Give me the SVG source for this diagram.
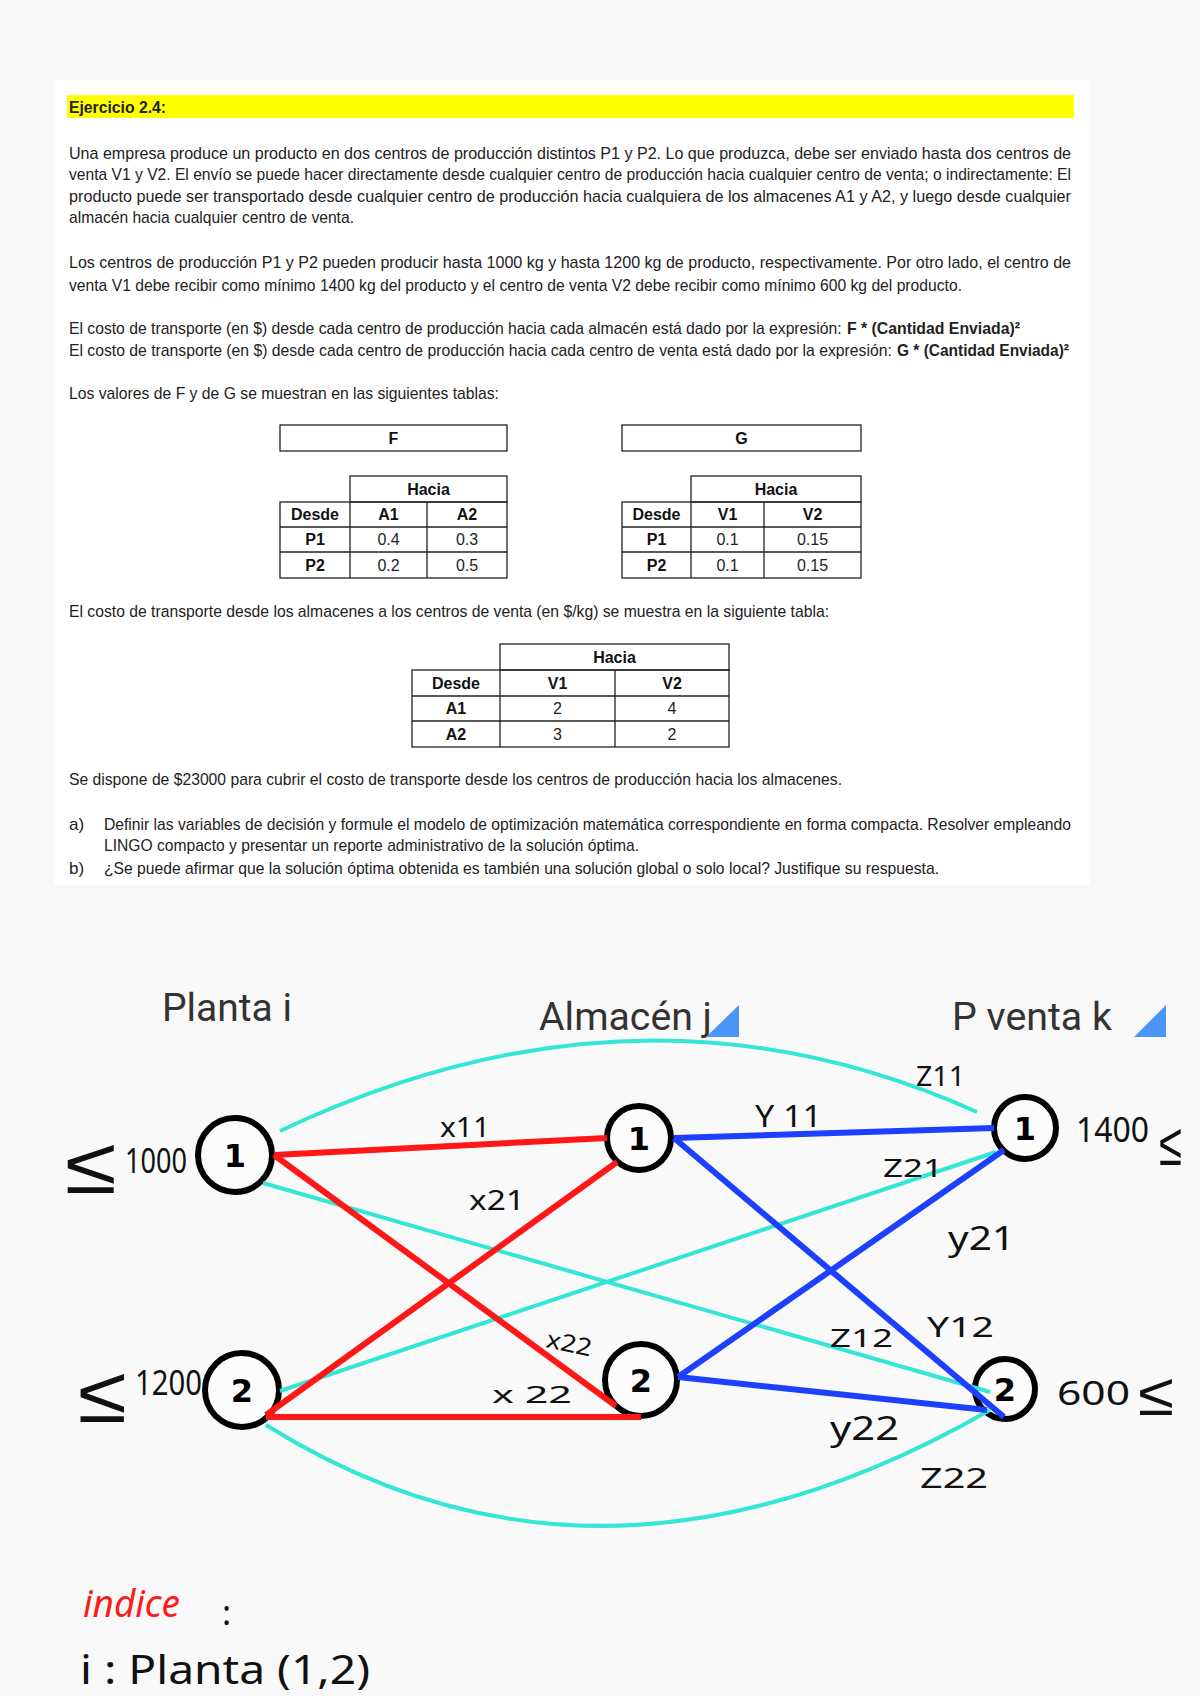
<svg xmlns="http://www.w3.org/2000/svg" width="1200" height="1696" viewBox="0 0 1200 1696">
<defs>
<style>
.doc{font-family:"Liberation Sans Narrow","Liberation Sans",Arial,sans-serif;font-size:17px;fill:#222}
.b{font-weight:bold}
.tb{font-family:"Liberation Sans Narrow","Liberation Sans",Arial,sans-serif;font-size:16px;fill:#222;text-anchor:middle}
.tbb{font-family:"Liberation Sans Narrow","Liberation Sans",Arial,sans-serif;font-size:16px;fill:#111;font-weight:bold;text-anchor:middle}
.grid{fill:none;stroke:#222;stroke-width:1.3}
.head{font-family:Roboto,"Noto Sans",sans-serif;font-size:38px;fill:#333}
.hw{font-family:"Noto Sans","DejaVu Sans",sans-serif;fill:#111}
.le{font-family:"Liberation Sans",Arial,sans-serif;fill:#111}
.node{fill:#fcfcfc;stroke:#000;stroke-width:6}
.nl{font-family:"DejaVu Sans",sans-serif;font-weight:bold;font-size:32px;fill:#000;text-anchor:middle}
.red{stroke:#ff1717;stroke-width:6;fill:none}
.blue{stroke:#1d40ff;stroke-width:6;fill:none}
.cyan{stroke:#33e6d5;stroke-width:4;fill:none}
.tri{fill:#4a95f7}
</style>
</defs>
<rect x="0" y="0" width="1200" height="1696" fill="#f9f9f9"/>
<rect x="54" y="80" width="1036" height="805" fill="#ffffff"/>

<g id="enunciado">
<rect x="67" y="95" width="1007" height="23" fill="#ffff00"/>
<text class="doc b" x="69" y="113" textLength="97" lengthAdjust="spacingAndGlyphs">Ejercicio 2.4:</text>
<text class="doc" x="69" y="159" textLength="1002" lengthAdjust="spacingAndGlyphs">Una empresa produce un producto en dos centros de producción distintos P1 y P2. Lo que produzca, debe ser enviado hasta dos centros de</text>
<text class="doc" x="69" y="180" textLength="1002" lengthAdjust="spacingAndGlyphs">venta V1 y V2. El envío se puede hacer directamente desde cualquier centro de producción hacia cualquier centro de venta; o indirectamente: El</text>
<text class="doc" x="69" y="202" textLength="1002" lengthAdjust="spacingAndGlyphs">producto puede ser transportado desde cualquier centro de producción hacia cualquiera de los almacenes A1 y A2, y luego desde cualquier</text>
<text class="doc" x="69" y="223" textLength="285" lengthAdjust="spacingAndGlyphs">almacén hacia cualquier centro de venta.</text>
<text class="doc" x="69" y="268" textLength="1002" lengthAdjust="spacingAndGlyphs">Los centros de producción P1 y P2 pueden producir hasta 1000 kg y hasta 1200 kg de producto, respectivamente. Por otro lado, el centro de</text>
<text class="doc" x="69" y="291" textLength="893" lengthAdjust="spacingAndGlyphs">venta V1 debe recibir como mínimo 1400 kg del producto y el centro de venta V2 debe recibir como mínimo 600 kg del producto.</text>
<text class="doc" transform="translate(69,334) scale(0.75,1)" x="0" y="0" textLength="1030" lengthAdjust="spacingAndGlyphs">El costo de transporte (en $) desde cada centro de producción hacia cada almacén está dado por la expresión:</text>
<text class="doc b" x="847" y="334" textLength="173" lengthAdjust="spacingAndGlyphs">F * (Cantidad Enviada)²</text>
<text class="doc" transform="translate(69,356) scale(0.75,1)" x="0" y="0" textLength="1097" lengthAdjust="spacingAndGlyphs">El costo de transporte (en $) desde cada centro de producción hacia cada centro de venta está dado por la expresión:</text>
<text class="doc b" x="897" y="356" textLength="172" lengthAdjust="spacingAndGlyphs">G * (Cantidad Enviada)²</text>
<text class="doc" x="69" y="399" textLength="430" lengthAdjust="spacingAndGlyphs">Los valores de F y de G se muestran en las siguientes tablas:</text>
<text class="doc" x="69" y="617" textLength="760" lengthAdjust="spacingAndGlyphs">El costo de transporte desde los almacenes a los centros de venta (en $/kg) se muestra en la siguiente tabla:</text>
<text class="doc" x="69" y="785" textLength="773" lengthAdjust="spacingAndGlyphs">Se dispone de $23000 para cubrir el costo de transporte desde los centros de producción hacia los almacenes.</text>
<text class="doc" x="69" y="830">a)</text>
<text class="doc" x="104" y="830" textLength="967" lengthAdjust="spacingAndGlyphs">Definir las variables de decisión y formule el modelo de optimización matemática correspondiente en forma compacta. Resolver empleando</text>
<text class="doc" x="104" y="851" textLength="535" lengthAdjust="spacingAndGlyphs">LINGO compacto y presentar un reporte administrativo de la solución óptima.</text>
<text class="doc" x="69" y="874">b)</text>
<text class="doc" x="104" y="874" textLength="835" lengthAdjust="spacingAndGlyphs">¿Se puede afirmar que la solución óptima obtenida es también una solución global o solo local? Justifique su respuesta.</text>
</g>

<g id="tabla-F">
<rect class="grid" x="280" y="425" width="227" height="26"/>
<text class="tbb" x="393.5" y="444">F</text>
<rect class="grid" x="350" y="476" width="157" height="26"/>
<rect class="grid" x="280" y="502" width="227" height="76"/>
<line class="grid" x1="280" y1="527" x2="507" y2="527"/>
<line class="grid" x1="280" y1="552" x2="507" y2="552"/>
<line class="grid" x1="350" y1="502" x2="350" y2="578"/>
<line class="grid" x1="427" y1="502" x2="427" y2="578"/>
<text class="tbb" x="428.5" y="495">Hacia</text>
<text class="tbb" x="315" y="520">Desde</text>
<text class="tbb" x="388.5" y="520">A1</text>
<text class="tbb" x="467" y="520">A2</text>
<text class="tbb" x="315" y="545">P1</text>
<text class="tb" x="388.5" y="545">0.4</text>
<text class="tb" x="467" y="545">0.3</text>
<text class="tbb" x="315" y="571">P2</text>
<text class="tb" x="388.5" y="571">0.2</text>
<text class="tb" x="467" y="571">0.5</text>
</g>

<g id="tabla-G">
<rect class="grid" x="622" y="425" width="239" height="26"/>
<text class="tbb" x="741.5" y="444">G</text>
<rect class="grid" x="691" y="476" width="170" height="26"/>
<rect class="grid" x="622" y="502" width="239" height="76"/>
<line class="grid" x1="622" y1="527" x2="861" y2="527"/>
<line class="grid" x1="622" y1="552" x2="861" y2="552"/>
<line class="grid" x1="691" y1="502" x2="691" y2="578"/>
<line class="grid" x1="764" y1="502" x2="764" y2="578"/>
<text class="tbb" x="776" y="495">Hacia</text>
<text class="tbb" x="656.5" y="520">Desde</text>
<text class="tbb" x="727.5" y="520">V1</text>
<text class="tbb" x="812.5" y="520">V2</text>
<text class="tbb" x="656.5" y="545">P1</text>
<text class="tb" x="727.5" y="545">0.1</text>
<text class="tb" x="812.5" y="545">0.15</text>
<text class="tbb" x="656.5" y="571">P2</text>
<text class="tb" x="727.5" y="571">0.1</text>
<text class="tb" x="812.5" y="571">0.15</text>
</g>

<g id="tabla-almacenes">
<rect class="grid" x="500" y="644" width="229" height="26"/>
<rect class="grid" x="412" y="670" width="317" height="77"/>
<line class="grid" x1="412" y1="696" x2="729" y2="696"/>
<line class="grid" x1="412" y1="721" x2="729" y2="721"/>
<line class="grid" x1="500" y1="670" x2="500" y2="747"/>
<line class="grid" x1="615" y1="670" x2="615" y2="747"/>
<text class="tbb" x="614.5" y="663">Hacia</text>
<text class="tbb" x="456" y="689">Desde</text>
<text class="tbb" x="557.5" y="689">V1</text>
<text class="tbb" x="672" y="689">V2</text>
<text class="tbb" x="456" y="714">A1</text>
<text class="tb" x="557.5" y="714">2</text>
<text class="tb" x="672" y="714">4</text>
<text class="tbb" x="456" y="740">A2</text>
<text class="tb" x="557.5" y="740">3</text>
<text class="tb" x="672" y="740">2</text>
</g>

<g id="titulos">
<text class="head" x="162" y="1021" textLength="130" lengthAdjust="spacingAndGlyphs">Planta i</text>
<text class="head" x="539" y="1030" textLength="173" lengthAdjust="spacingAndGlyphs">Almacén j</text>
<polygon class="tri" points="739,1005 739,1037 706,1037"/>
<text class="head" x="952" y="1030" textLength="160" lengthAdjust="spacingAndGlyphs">P venta k</text>
<polygon class="tri" points="1166,1005 1166,1037 1134,1037"/>
</g>

<g id="node-P1"><circle class="node" cx="235" cy="1155" r="37"/><text class="nl" x="235" y="1167">1</text></g>
<g id="node-P2"><circle class="node" cx="242" cy="1390" r="37"/><text class="nl" x="242" y="1402">2</text></g>
<g id="node-A1"><circle class="node" cx="639" cy="1138" r="32"/><text class="nl" x="639" y="1150">1</text></g>
<g id="node-A2"><circle class="node" cx="641" cy="1380" r="36"/><text class="nl" x="641" y="1392">2</text></g>
<g id="node-V1"><circle class="node" cx="1025" cy="1128" r="31"/><text class="nl" x="1025" y="1140">1</text></g>
<g id="node-V2"><circle class="node" cx="1005" cy="1389" r="30"/><text class="nl" x="1005" y="1401">2</text></g>

<g id="connectors">
<path class="cyan" d="M280,1131 Q640,960 977,1112"/>
<line class="cyan" x1="263" y1="1183" x2="990" y2="1392"/>
<line class="cyan" x1="280" y1="1391" x2="996" y2="1152"/>
<path class="cyan" d="M266,1425 Q600,1634 990,1410"/>
<line class="red" x1="274" y1="1155" x2="607" y2="1138"/>
<line class="red" x1="274" y1="1155" x2="616" y2="1406"/>
<line class="red" x1="266" y1="1415" x2="617" y2="1162"/>
<line class="red" x1="266" y1="1417" x2="641" y2="1417"/>
<line class="blue" x1="674" y1="1138" x2="994" y2="1128"/>
<line class="blue" x1="674" y1="1138" x2="1004" y2="1417"/>
<line class="blue" x1="678" y1="1377" x2="1004" y2="1150"/>
<line class="blue" x1="678" y1="1377" x2="987" y2="1410"/>
</g>

<g id="etiquetas">
<text class="hw" x="440" y="1137" font-size="28" textLength="50" lengthAdjust="spacingAndGlyphs">x11</text>
<text class="hw" x="469" y="1210" font-size="28" textLength="56" lengthAdjust="spacingAndGlyphs">x21</text>
<text class="hw" x="547" y="1352" font-size="24" textLength="46" lengthAdjust="spacingAndGlyphs" transform="rotate(12 570 1340)">x22</text>
<text class="hw" x="492" y="1403" font-size="24" textLength="80" lengthAdjust="spacingAndGlyphs">x 22</text>
<text class="hw" x="755" y="1127" font-size="30" textLength="67" lengthAdjust="spacingAndGlyphs">Y 11</text>
<text class="hw" x="916" y="1086" font-size="28" textLength="49" lengthAdjust="spacingAndGlyphs">Z11</text>
<text class="hw" x="883" y="1177" font-size="26" textLength="60" lengthAdjust="spacingAndGlyphs">Z21</text>
<text class="hw" x="948" y="1250" font-size="32" textLength="67" lengthAdjust="spacingAndGlyphs">y21</text>
<text class="hw" x="830" y="1347" font-size="26" textLength="63" lengthAdjust="spacingAndGlyphs">Z12</text>
<text class="hw" x="927" y="1337" font-size="28" textLength="67" lengthAdjust="spacingAndGlyphs">Y12</text>
<text class="hw" x="830" y="1440" font-size="32" textLength="69" lengthAdjust="spacingAndGlyphs">y22</text>
<text class="hw" x="920" y="1488" font-size="28" textLength="68" lengthAdjust="spacingAndGlyphs">Z22</text>
<text class="le" x="65" y="1193" font-size="80" textLength="52" lengthAdjust="spacingAndGlyphs">≤</text>
<text class="hw" x="125" y="1173" font-size="34" textLength="62" lengthAdjust="spacingAndGlyphs">1000</text>
<text class="le" x="78" y="1422" font-size="80" textLength="49" lengthAdjust="spacingAndGlyphs">≤</text>
<text class="hw" x="135" y="1395" font-size="34" textLength="67" lengthAdjust="spacingAndGlyphs">1200</text>
<text class="hw" x="1076" y="1142" font-size="34" textLength="73" lengthAdjust="spacingAndGlyphs">1400</text>
<text class="le" x="1159" y="1165" font-size="60" textLength="23" lengthAdjust="spacingAndGlyphs">≤</text>
<text class="hw" x="1057" y="1405" font-size="32" textLength="73" lengthAdjust="spacingAndGlyphs">600</text>
<text class="le" x="1138" y="1415" font-size="60" textLength="36" lengthAdjust="spacingAndGlyphs">≤</text>
</g>

<g id="indices">
<text class="hw" x="83" y="1617" font-size="38" font-style="italic" style="fill:#ff1a1a" textLength="97" lengthAdjust="spacingAndGlyphs">indice</text>
<text class="hw" x="222" y="1625" font-size="34">:</text>
<text class="hw" x="80" y="1684" font-size="40" textLength="290" lengthAdjust="spacingAndGlyphs">i : Planta (1,2)</text>
</g>
</svg>
